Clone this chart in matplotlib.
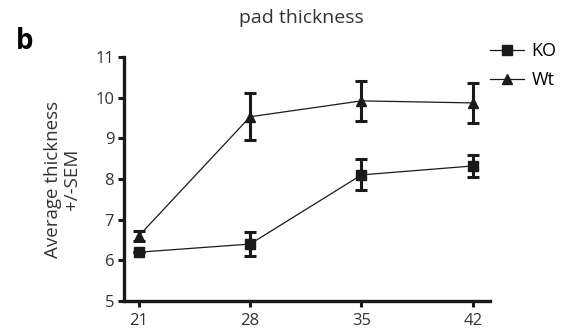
import matplotlib
matplotlib.use("Agg")
import matplotlib.pyplot as plt

days = [21, 28, 35, 42]
ko_mean = [6.2, 6.4, 8.1, 8.32]
ko_sem = [0.0, 0.3, 0.38, 0.27]
wt_mean = [6.6, 9.53, 9.92, 9.87]
wt_sem = [0.12, 0.58, 0.5, 0.5]
yticks = [5, 6, 7, 8, 9, 10, 11]

plt.rcParams['font.family'] = ['Open Sans', 'DejaVu Sans']

fig = plt.figure(figsize=(5.63, 3.35), dpi=100)
ax = fig.add_axes([0.220, 0.1015, 0.650, 0.7285])

# error bars drawn heavy, connecting lines thin
for mean, sem, mk, lab in [(ko_mean, ko_sem, 's', 'KO'), (wt_mean, wt_sem, '^', 'Wt')]:
    ax.errorbar(days, mean, yerr=sem, fmt='none', ecolor='#1a1a1a',
                elinewidth=2.2, capsize=4.5, capthick=2.2)
    ax.plot(days, mean, color='#1a1a1a', lw=0.9, marker=mk, ms=7.5,
            label=lab)

ax.set_xlim(20.06, 43.07)
ax.set_ylim(5, 11)
ax.set_xticks(days)
ax.set_yticks(yticks)
for s in ['top', 'right']:
    ax.spines[s].set_visible(False)
for s in ['left', 'bottom']:
    ax.spines[s].set_linewidth(2.4)
    ax.spines[s].set_color('#1a1a1a')
ax.tick_params(width=2.2, length=4, labelsize=12, colors='#1a1a1a', pad=3)
ax.tick_params(axis='x', pad=5)
for t in ax.get_xticklabels() + ax.get_yticklabels():
    t.set_color('#333333')

ax.set_ylabel('Average thickness\n+/-SEM', fontsize=13.5, labelpad=10,
              color='#333333', linespacing=1.1)
fig.text(0.535, 0.945, 'pad thickness', ha='center', va='center',
         fontsize=14, color='#333333')
fig.text(0.028, 0.875, 'b', fontsize=20, fontweight='bold', ha='left', va='center')

ax.legend(loc='upper left', bbox_to_anchor=(0.98, 1.09), frameon=False,
          handlelength=1.9, handletextpad=0.4, fontsize=13, labelspacing=0.6,
          borderaxespad=0)

fig.savefig('out.png', dpi=100)
